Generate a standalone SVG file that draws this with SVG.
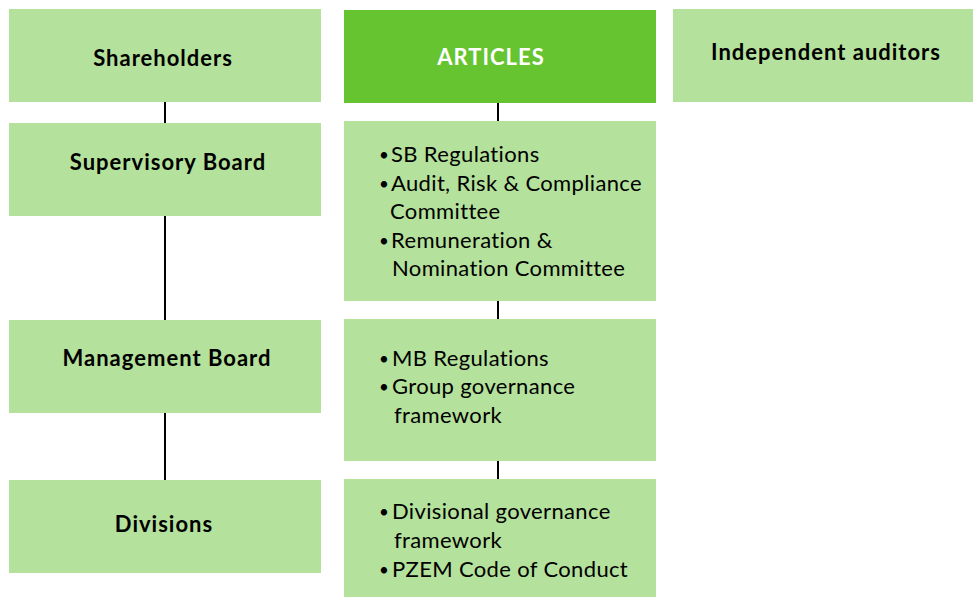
<svg xmlns="http://www.w3.org/2000/svg" width="973" height="597" viewBox="0 0 973 597">
<style>
.box{fill:#b4e19b}
.dark{fill:#66c431}
.t{font-family:Lato,"Liberation Sans",sans-serif;font-size:22px;font-weight:bold;letter-spacing:1px;fill:#000;text-anchor:middle}
.w{fill:#fff}
.b{font-family:Lato,"Liberation Sans",sans-serif;font-size:22px;letter-spacing:0.35px;fill:#000}
.d{font-family:Lato,"Liberation Sans",sans-serif;font-size:17px;fill:#000}
.c{stroke:#000;stroke-width:2;fill:none}
</style>
<rect width="973" height="597" fill="#fff"/>
<g id="connectors">
<path class="c" d="M165 102V123M165 216V320M165 413V480M498 103V121M498 301V319M498 461V479"/>
</g>
<g id="shareholders"><rect class="box" x="9" y="9" width="312" height="93"/><text class="t" x="163" y="66">Shareholders</text></g>
<g id="supervisory-board"><rect class="box" x="9" y="123" width="312" height="93"/><text class="t" x="168" y="170">Supervisory Board</text></g>
<g id="management-board"><rect class="box" x="9" y="320" width="312" height="93"/><text class="t" x="167" y="366">Management Board</text></g>
<g id="divisions"><rect class="box" x="9" y="480" width="312" height="93"/><text class="t" x="164" y="532">Divisions</text></g>
<g id="articles"><rect class="dark" x="344" y="10" width="312" height="93"/><text class="t w" x="491" y="65">ARTICLES</text></g>
<g id="independent-auditors"><rect class="box" x="673" y="9" width="300" height="93"/><text class="t" x="826" y="60">Independent auditors</text></g>
<g id="sb-documents"><rect class="box" x="344" y="121" width="312" height="180"/>
<text class="d"><tspan x="379" y="161">•</tspan><tspan x="379" y="190">•</tspan><tspan x="379" y="247">•</tspan></text>
<text class="b"><tspan x="391" y="162">SB Regulations</tspan><tspan x="391" y="191">Audit, Risk &amp; Compliance</tspan><tspan x="390" y="219">Committee</tspan><tspan x="391" y="248">Remuneration &amp;</tspan><tspan x="392" y="276">Nomination Committee</tspan></text></g>
<g id="mb-documents"><rect class="box" x="344" y="319" width="312" height="142"/>
<text class="d"><tspan x="379" y="365">•</tspan><tspan x="379" y="393">•</tspan></text>
<text class="b"><tspan x="392" y="366">MB Regulations</tspan><tspan x="392" y="394">Group governance</tspan><tspan x="394" y="423">framework</tspan></text></g>
<g id="division-documents"><rect class="box" x="344" y="479" width="312" height="118"/>
<text class="d"><tspan x="379" y="518">•</tspan><tspan x="379" y="576">•</tspan></text>
<text class="b"><tspan x="392" y="519">Divisional governance</tspan><tspan x="394" y="548">framework</tspan><tspan x="392" y="577">PZEM Code of Conduct</tspan></text></g>
</svg>
